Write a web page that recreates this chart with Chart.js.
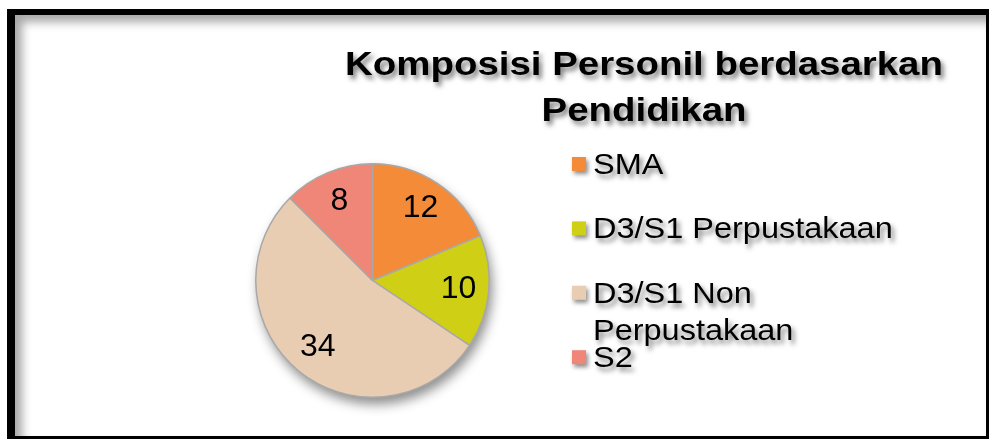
<!DOCTYPE html>
<html>
<head>
<meta charset="utf-8">
<script src="https://cdn.jsdelivr.net/npm/chart.js@4/dist/chart.umd.min.js"></script>
<style>
  html, body { margin: 0; padding: 0; background: #fff; }
  body { width: 989px; height: 439px; position: relative; overflow: hidden; }
  .frame {
    position: absolute;
    left: 7px; top: 9px;
    width: 971px; height: 421px;
    border-style: solid;
    border-color: #000;
    border-width: 6px 3px 3px 8px;
    box-shadow: inset 7px 7px 10px rgba(0,0,0,.35);
    background: #fff;
  }
  #chart { position: absolute; left: 0; top: 0; }
</style>
</head>
<body>
<div class="frame"></div>
<canvas id="chart" width="989" height="439"></canvas>
<script>
// Komposisi personil — pie chart

// ── Data ──────────────────────────────────────────────────────────────────────

const TITLE_LINES = ['Komposisi Personil berdasarkan', 'Pendidikan'];
const CATEGORIES = ['SMA', 'D3/S1 Perpustakaan', 'D3/S1 Non Perpustakaan', 'S2'];
const VALUES = [12, 10, 34, 8];
const COLORS = ['#f38b38', '#cfcf16', '#e9cdb3', '#ef8677'];

// ── Helpers ───────────────────────────────────────────────────────────────────

const FONT = '"Liberation Sans", Arial, sans-serif';

function shadowOn(ctx, blur, dx, dy, alpha) {
  ctx.shadowColor = `rgba(0,0,0,${alpha})`;
  ctx.shadowBlur = blur;
  ctx.shadowOffsetX = dx;
  ctx.shadowOffsetY = dy;
}

function wrapWords(ctx, text, maxWidth, sx) {
  const words = text.split(' ');
  const lines = [];
  let line = '';
  words.forEach((w) => {
    const test = line ? line + ' ' + w : w;
    if (line && ctx.measureText(test).width * sx > maxWidth) {
      lines.push(line);
      line = w;
    } else {
      line = test;
    }
  });
  if (line) lines.push(line);
  return lines;
}

// ── Plugins ───────────────────────────────────────────────────────────────────

// soft drop shadow under the whole pie
const pieShadow = {
  id: 'pieShadow',
  beforeDatasetsDraw(chart) {
    const arc = chart.getDatasetMeta(0).data[0];
    if (!arc) return;
    const { x, y, outerRadius } = arc.getProps(['x', 'y', 'outerRadius'], true);
    const ctx = chart.ctx;
    ctx.save();
    shadowOn(ctx, 12, 3, 7, 0.45);
    ctx.fillStyle = '#fff';
    ctx.beginPath();
    ctx.arc(x, y, outerRadius, 0, Math.PI * 2);
    ctx.fill();
    ctx.restore();
  },
};

// value labels inside slices
const sliceLabels = {
  id: 'sliceLabels',
  afterDatasetsDraw(chart) {
    const ctx = chart.ctx;
    const values = chart.data.datasets[0].data;
    ctx.save();
    ctx.font = `32px ${FONT}`;
    ctx.fillStyle = '#000';
    ctx.textAlign = 'center';
    ctx.textBaseline = 'middle';
    chart.getDatasetMeta(0).data.forEach((arc, i) => {
      const p = arc.getProps(['x', 'y', 'startAngle', 'endAngle', 'outerRadius'], true);
      const mid = (p.startAngle + p.endAngle) / 2;
      const r = p.outerRadius * 0.74;
      ctx.fillText(String(values[i]), p.x + Math.cos(mid) * r, p.y + Math.sin(mid) * r);
    });
    ctx.restore();
  },
};

// title + legend on the right, text a bit wide like the original
const titleLegend = {
  id: 'titleLegend',
  afterDraw(chart) {
    const ctx = chart.ctx;

    // title
    ctx.save();
    ctx.font = `bold 34px ${FONT}`;
    ctx.fillStyle = '#000';
    ctx.textAlign = 'center';
    ctx.textBaseline = 'alphabetic';
    shadowOn(ctx, 5, 3, 4, 0.5);
    TITLE_LINES.forEach((line, i) => {
      ctx.save();
      ctx.translate(644, 75 + i * 46);
      ctx.scale(1.13, 1);
      ctx.fillText(line, 0, 0);
      ctx.restore();
    });
    ctx.restore();

    // legend
    const sx = 1.12;
    const boxX = 572;
    const textX = 593;
    ctx.save();
    ctx.font = `29px ${FONT}`;
    ctx.textAlign = 'left';
    ctx.textBaseline = 'alphabetic';
    chart.data.labels.forEach((label, i) => {
      const base = 174 + i * 64.4;
      ctx.save();
      shadowOn(ctx, 4, 2, 3, 0.45);
      ctx.fillStyle = COLORS[i];
      ctx.fillRect(boxX, base - 17, 14, 14);
      ctx.restore();

      ctx.save();
      shadowOn(ctx, 5, 3, 4, 0.5);
      ctx.fillStyle = '#000';
      const lines = wrapWords(ctx, label, 320, sx);
      lines.forEach((ln, j) => {
        ctx.save();
        ctx.translate(textX, base + j * 37);
        ctx.scale(sx, 1);
        ctx.fillText(ln, 0, 0);
        ctx.restore();
      });
      ctx.restore();
    });
    ctx.restore();
  },
};

// ── Chart ─────────────────────────────────────────────────────────────────────

new Chart(document.getElementById('chart').getContext('2d'), {
  type: 'pie',
  data: {
    labels: CATEGORIES,
    datasets: [{
      data: VALUES,
      backgroundColor: COLORS,
      borderColor: '#a8a8a8',
      borderWidth: 1.5,
    }],
  },
  options: {
    responsive: false,
    animation: false,
    layout: { padding: { top: 163, bottom: 41, left: 255, right: 499 } },
    plugins: {
      legend: { display: false },
      tooltip: { enabled: false },
      title: { display: false },
    },
  },
  plugins: [pieShadow, sliceLabels, titleLegend],
});
</script>
</body>
</html>
